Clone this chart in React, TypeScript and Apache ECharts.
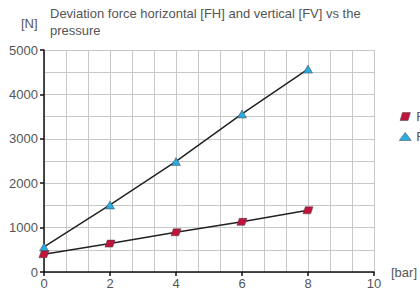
import React, { useEffect, useRef } from "react";
import * as echarts from "echarts";

const pressure = [0, 2, 4, 6, 8];
const fhValues = [400, 640, 895, 1130, 1390];
const fvValues = [565, 1510, 2490, 3560, 4570];
const seriesNames = ["FH", "FV"];
const titleLines = ["Deviation force horizontal [FH] and vertical [FV] vs the", "pressure"];

const para = "path://M3,0 L13,0 L10,10 L0,10 Z";
const FONT = "Liberation Sans, Arial, sans-serif";

export default function App() {
  const ref = useRef<HTMLDivElement>(null);
  useEffect(() => {
    const chart = echarts.init(ref.current!, undefined, { renderer: "svg" });
    const toPairs = (vals: number[]) => pressure.map((p, i) => [p, vals[i]]);
    chart.setOption({
      animation: false,
      textStyle: { fontFamily: FONT },
      graphic: [
        { type: "text", left: 21, top: 17, style: { text: "[N]", fontSize: 13, fill: "#555", fontFamily: FONT } },
        { type: "text", left: 50, top: 5, style: { text: titleLines.join("\n"), fontSize: 13, lineHeight: 17, fill: "#555", fontFamily: FONT } },
      ],
      legend: {
        orient: "vertical",
        left: 399,
        top: 110,
        padding: 0,
        itemWidth: 12,
        itemHeight: 8,
        itemGap: 7,
        textStyle: { fontSize: 13, color: "#555" },
        data: [
          { name: seriesNames[0], icon: para, itemStyle: { color: "#c0143c", borderColor: "#444", borderWidth: 0.5 } },
          { name: seriesNames[1], icon: "triangle", itemStyle: { color: "#29abe2", borderColor: "#444", borderWidth: 0.5 } },
        ],
      },
      grid: { left: 44, right: 42, top: 50, bottom: 24, containLabel: false },
      xAxis: {
        type: "value",
        min: 0,
        max: 10,
        interval: 2,
        name: "[bar]",
        nameLocation: "end",
        nameGap: 17,
        nameTextStyle: { fontSize: 13, color: "#555", verticalAlign: "middle", padding: [4, 0, 0, 0] },
        axisLine: { lineStyle: { color: "#111", width: 1.5 } },
        axisTick: { show: true, length: 4, lineStyle: { color: "#111", width: 1.5 } },
        axisLabel: { fontSize: 13, color: "#555", margin: 5 },
        splitLine: { show: true, lineStyle: { color: "#c8c8c8", width: 1 } },
        minorTick: { show: false, splitNumber: 3 },
        minorSplitLine: { show: true, lineStyle: { color: "#c8c8c8", width: 1 } },
      },
      yAxis: {
        type: "value",
        min: 0,
        max: 5000,
        interval: 1000,
        axisLine: { show: true, lineStyle: { color: "#111", width: 1.5 } },
        axisTick: { show: true, length: 4, lineStyle: { color: "#111", width: 1.5 } },
        axisLabel: { fontSize: 13, color: "#555", margin: 6, formatter: (v: number) => String(v) },
        splitLine: { show: true, lineStyle: { color: "#c8c8c8", width: 1 } },
        minorTick: { show: false, splitNumber: 2 },
        minorSplitLine: { show: true, lineStyle: { color: "#c8c8c8", width: 1 } },
      },
      series: [
        {
          name: seriesNames[0],
          type: "line",
          data: toPairs(fhValues),
          symbol: para,
          symbolSize: [10, 7],
          lineStyle: { color: "#222", width: 1.5 },
          itemStyle: { color: "#c0143c", borderColor: "#444", borderWidth: 0.5 },
          z: 3,
        },
        {
          name: seriesNames[1],
          type: "line",
          data: toPairs(fvValues),
          symbol: "triangle",
          symbolSize: [9, 8],
          lineStyle: { color: "#222", width: 1.5 },
          itemStyle: { color: "#29abe2", borderColor: "#444", borderWidth: 0.5 },
          z: 2,
        },
      ],
    });
    return () => chart.dispose();
  }, []);
  return <div ref={ref} style={{ width: 420, height: 296, position: "absolute", left: 0, top: 0 }} />;
}
